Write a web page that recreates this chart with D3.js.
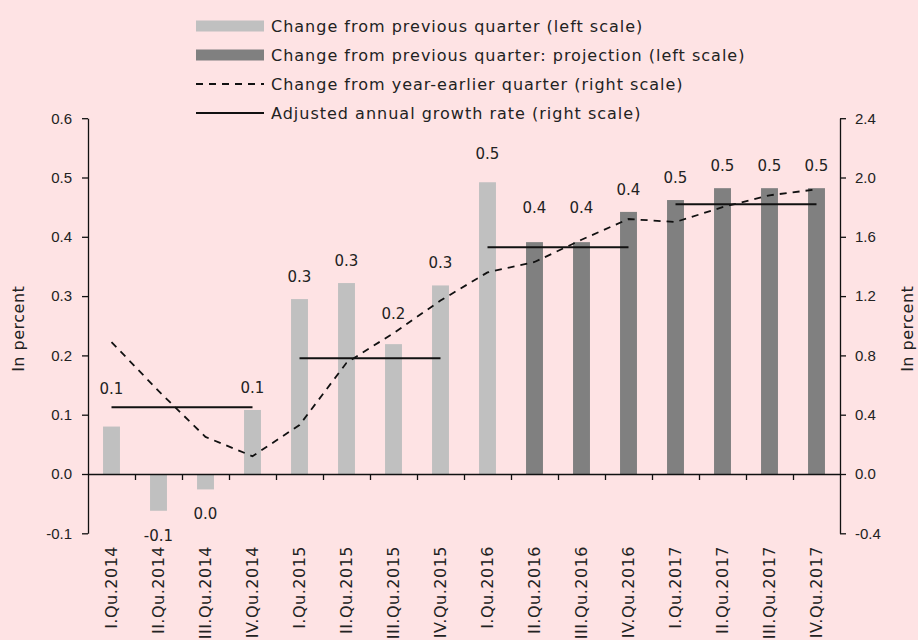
<!DOCTYPE html>
<html>
<head>
<meta charset="utf-8">
<script src="https://cdn.jsdelivr.net/npm/d3@7"></script>
<style>
  html, body { margin: 0; padding: 0; background: #fee3e4; }
  svg { display: block; font-family: "DejaVu Sans", sans-serif; }
  .axis text { font-size: 15px; fill: #222; }
  .axis path, .axis line { stroke: #111; stroke-width: 1.3; }
</style>
</head>
<body>
<svg id="chart" width="918" height="640"></svg>
<script>
// Data
const quarters = ["I.Qu.2014", "II.Qu.2014", "III.Qu.2014", "IV.Qu.2014",
    "I.Qu.2015", "II.Qu.2015", "III.Qu.2015", "IV.Qu.2015",
    "I.Qu.2016", "II.Qu.2016", "III.Qu.2016", "IV.Qu.2016",
    "I.Qu.2017", "II.Qu.2017", "III.Qu.2017", "IV.Qu.2017"];
const qoqChange = [0.080, -0.062, -0.026, 0.108, 0.295, 0.322, 0.219, 0.318,
    0.492, 0.391, 0.391, 0.442, 0.462, 0.482, 0.482, 0.482];
const isProjection = [false, false, false, false, false, false, false, false,
    false, true, true, true, true, true, true, true];
const barLabels = ["0.1", "-0.1", "0.0", "0.1", "0.3", "0.3", "0.2", "0.3",
    "0.5", "0.4", "0.4", "0.4", "0.5", "0.5", "0.5", "0.5"];
const yoyChange = [0.89, 0.56, 0.25, 0.12, 0.33, 0.75, 0.95, 1.17,
    1.36, 1.43, 1.58, 1.72, 1.70, 1.80, 1.88, 1.92];
const annualYears = [["I.Qu.2014", "IV.Qu.2014"], ["I.Qu.2015", "IV.Qu.2015"],
    ["I.Qu.2016", "IV.Qu.2016"], ["I.Qu.2017", "IV.Qu.2017"]];
const annualRate = [0.45, 0.78, 1.53, 1.82];
const leftTicks = [-0.1, 0.0, 0.1, 0.2, 0.3, 0.4, 0.5, 0.6];
const rightTicks = [-0.4, 0.0, 0.4, 0.8, 1.2, 1.6, 2.0, 2.4];
const legendItems = [
    "Change from previous quarter (left scale)",
    "Change from previous quarter: projection (left scale)",
    "Change from year-earlier quarter (right scale)",
    "Adjusted annual growth rate (right scale)"
];

// extra lift of some bar labels (layout only)
const labelLift = [16, 0, 0, 0, 0, 0, 8, 0, 6, 12, 12, 0, 0, 0, 0, 0];

const svg = d3.select("#chart");
const plotLeft = 88, plotRight = 840, plotTop = 118.2, plotBottom = 533.3;
const fmt = d => d.toFixed(1);

const x = d3.scaleBand().domain(quarters).range([plotLeft, plotRight]).padding(0);
const xi = d3.scaleLinear().domain([0, quarters.length]).range([plotLeft, plotRight]);
const yL = d3.scaleLinear().domain([-0.1, 0.6]).range([plotBottom, plotTop]);
const yR = d3.scaleLinear().domain([-0.4, 2.4]).range([plotBottom, plotTop]);
const cx = q => x(q) + x.bandwidth() / 2;
const barW = x.bandwidth() * 0.36;

// Bars
svg.append("g").selectAll("rect")
    .data(quarters)
    .join("rect")
    .attr("x", q => cx(q) - barW / 2)
    .attr("width", barW)
    .attr("y", (q, i) => yL(Math.max(0, qoqChange[i])))
    .attr("height", (q, i) => Math.abs(yL(qoqChange[i]) - yL(0)))
    .attr("fill", (q, i) => isProjection[i] ? "#808080" : "#c0c0c0");

// Bar labels
svg.append("g").selectAll("text")
    .data(quarters)
    .join("text")
    .attr("x", q => cx(q))
    .attr("y", (q, i) => qoqChange[i] >= 0
        ? yL(qoqChange[i]) - 17 - labelLift[i]
        : yL(qoqChange[i]) + 30)
    .attr("text-anchor", "middle")
    .style("font-size", "15px")
    .attr("fill", "#222")
    .text((q, i) => barLabels[i]);

// Axes
svg.append("g")
    .attr("class", "axis")
    .attr("transform", `translate(${plotLeft},0)`)
    .call(d3.axisLeft(yL).tickValues(leftTicks).tickFormat(fmt)
        .tickSize(6).tickSizeOuter(0).tickPadding(10));

svg.append("g")
    .attr("class", "axis")
    .attr("transform", `translate(${plotRight},0)`)
    .call(d3.axisRight(yR).tickValues(rightTicks).tickFormat(fmt)
        .tickSize(6).tickSizeOuter(0).tickPadding(9));

svg.append("g")
    .attr("class", "axis")
    .attr("transform", `translate(0,${yL(0)})`)
    .call(d3.axisBottom(xi).tickValues(d3.range(1, quarters.length)).tickFormat("")
        .tickSize(6).tickSizeOuter(0));

// Category labels
svg.append("g").selectAll("text")
    .data(quarters)
    .join("text")
    .attr("transform", q => `translate(${cx(q)},546) rotate(-90)`)
    .attr("dy", "0.35em")
    .attr("text-anchor", "end")
    .style("font-size", "16px")
    .style("letter-spacing", "0.5px")
    .attr("fill", "#222")
    .text(q => q);

// Year-earlier line
svg.append("path")
    .datum(quarters)
    .attr("fill", "none")
    .attr("stroke", "#111")
    .attr("stroke-width", 1.8)
    .attr("stroke-dasharray", "7,6")
    .attr("d", d3.line().x(q => cx(q)).y((q, i) => yR(yoyChange[i])));

// Annual growth lines
svg.append("g").selectAll("line")
    .data(annualYears)
    .join("line")
    .attr("x1", d => cx(d[0]))
    .attr("x2", d => cx(d[1]))
    .attr("y1", (d, i) => yR(annualRate[i]))
    .attr("y2", (d, i) => yR(annualRate[i]))
    .attr("stroke", "#111")
    .attr("stroke-width", 2);

// Axis titles
[24, 913].forEach(tx => {
    svg.append("text")
        .attr("transform", `translate(${tx},${(plotTop + plotBottom) / 2 + 3}) rotate(-90)`)
        .attr("text-anchor", "middle")
        .style("font-size", "16px")
        .style("letter-spacing", "0.5px")
        .attr("fill", "#222")
        .text("In percent");
});

// Legend
const legend = svg.append("g").attr("transform", "translate(196,26)");
const rows = legend.selectAll("g")
    .data(legendItems)
    .join("g")
    .attr("transform", (d, i) => `translate(0,${i * 29})`);

rows.filter((d, i) => i < 2).append("rect")
    .attr("y", -5.5)
    .attr("width", 68)
    .attr("height", 11)
    .attr("fill", (d, i) => i === 0 ? "#c0c0c0" : "#808080");

rows.filter((d, i) => i >= 2).append("line")
    .attr("x1", 0)
    .attr("x2", 68)
    .attr("stroke", "#111")
    .attr("stroke-width", (d, i) => i === 0 ? 1.8 : 2)
    .attr("stroke-dasharray", (d, i) => i === 0 ? "7,6" : null);

rows.append("text")
    .attr("x", 75)
    .attr("dy", "0.35em")
    .style("font-size", "16px")
    .style("letter-spacing", "1px")
    .attr("fill", "#222")
    .text(d => d);
</script>
</body>
</html>
